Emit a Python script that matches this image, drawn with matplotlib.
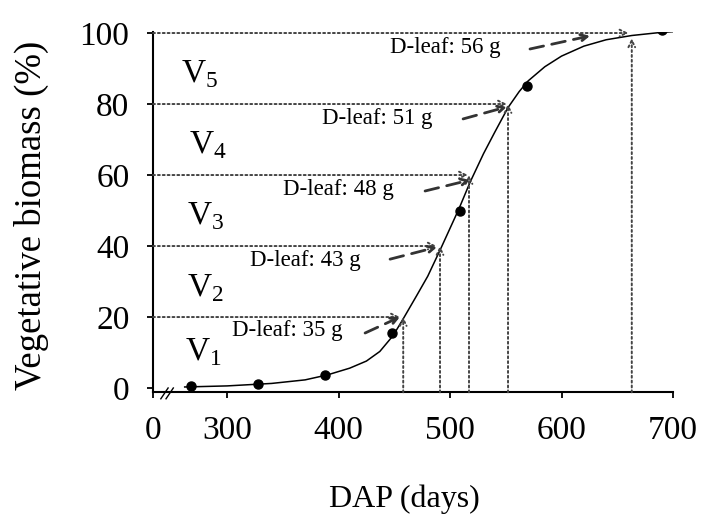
import matplotlib.pyplot as plt

plt.rcParams['font.family'] = 'Liberation Serif'
plt.rcParams['mathtext.fontset'] = 'custom'
plt.rcParams['mathtext.rm'] = 'Liberation Serif'

# observed points (DAP, % vegetative biomass)
obs_days = [268, 328, 388, 448, 509, 569, 690]
obs_pct = [0.6, 1.1, 3.7, 15.5, 50, 85, 100.8]

# fitted curve
curve_days = [262, 300, 340, 370, 390, 410, 425, 437, 449, 458, 470, 480, 492, 500,
              508, 518, 530, 540, 552, 562, 570, 585, 600, 620, 640, 663, 690, 702]
curve_pct = [0.3, 0.6, 1.3, 2.3, 3.7, 5.6, 7.6, 10.3, 14.8, 19.5, 26, 31.5, 39.5, 45,
             50.5, 58, 66, 72, 79, 83.5, 86.5, 90.5, 93.5, 96.3, 98.1, 99.3, 100.2, 100.4]

# stage thresholds and the day each is reached
levels = [20, 40, 60, 80, 100]
cross_days = [458, 491, 517, 552, 663]
stage_labels = ['V$_1$', 'V$_2$', 'V$_3$', 'V$_4$', 'V$_5$']
leaf_labels = ['D-leaf: 35 g', 'D-leaf: 43 g', 'D-leaf: 48 g', 'D-leaf: 51 g', 'D-leaf: 56 g']

xticks = [300, 400, 500, 600, 700]
XMIN, XMAX = 233.6, 700
YMIN, YMAX = -1.2, 100.3

fig = plt.figure(figsize=(7.01, 5.23), dpi=100)
ax = fig.add_axes([0.2183, 0.2499, 0.7418, 0.689])

ax.plot(curve_days, curve_pct, color='black', lw=1.1)
ax.plot(obs_days, obs_pct, 'o', color='black', ms=6.5)

dotted = dict(arrowstyle='->', ls=(0, (1, 1.5)), lw=1.4, color='#444',
              shrinkA=0, shrinkB=0, mutation_scale=12)
dashed = dict(arrowstyle='->', ls=(0, (5, 3)), lw=2, color='#333',
              shrinkA=0, shrinkB=0, mutation_scale=12)

# horizontal / vertical guides
hx_end = [455, 488, 516, 551, 660]
vy_end = [20, 40, 60, 80, 98.5]
for lvl, xd, hx, vy in zip(levels, cross_days, hx_end, vy_end):
    ax.annotate('', xy=(hx, lvl), xytext=(XMIN, lvl), arrowprops=dotted)
    ax.annotate('', xy=(xd, vy), xytext=(xd, YMIN), arrowprops=dotted)

# D-leaf labels with dashed arrows
txt_x = [304.5, 320.6, 350, 385, 446]
txt_y = [16.3, 36, 55.8, 76, 95.8]
arr_start = [(423.8, 15.5), (446.2, 36.3), (477.6, 55.5), (511.7, 75.8), (571.7, 95.5)]
arr_end = [(455, 20), (488.3, 39.7), (518, 58.6), (551, 79.2), (625.6, 99.2)]
for lab, tx, ty, s, e in zip(leaf_labels, txt_x, txt_y, arr_start, arr_end):
    ax.text(tx, ty, lab, fontsize=16.5, ha='left', va='center')
    ax.annotate('', xy=e, xytext=s, arrowprops=dashed)

# stage labels
stage_x = [262, 264, 264, 266, 259]
stage_y = [10, 28, 48.5, 68.5, 88.5]
for lab, sx, sy in zip(stage_labels, stage_x, stage_y):
    ax.text(sx, sy, lab, fontsize=24, ha='left', va='center')

ax.set_xlim(XMIN, XMAX)
ax.set_ylim(YMIN, YMAX)
ax.set_xticks([XMIN] + xticks)
ax.set_xticklabels(['0'] + [str(t) for t in xticks])
ax.set_yticks([0, 20, 40, 60, 80, 100])

for side in ['top', 'right']:
    ax.spines[side].set_visible(False)
for side in ['left', 'bottom']:
    ax.spines[side].set_linewidth(1.5)
ax.tick_params(direction='out', length=4, width=1.3, labelsize=24, pad=13)

# axis break mark
for bx in [0.022, 0.032]:
    ax.plot([bx - 0.007, bx + 0.007], [-0.018, 0.012], transform=ax.transAxes,
            color='black', lw=1, clip_on=False)

ax.set_xlabel('DAP (days)', fontsize=23)
ax.set_ylabel('Vegetative biomass (%)', fontsize=26.5)
ax.xaxis.set_label_coords(0.483, -0.255)
ax.yaxis.set_label_coords(-0.2, 0.49)

fig.savefig('out.png', dpi=100)
